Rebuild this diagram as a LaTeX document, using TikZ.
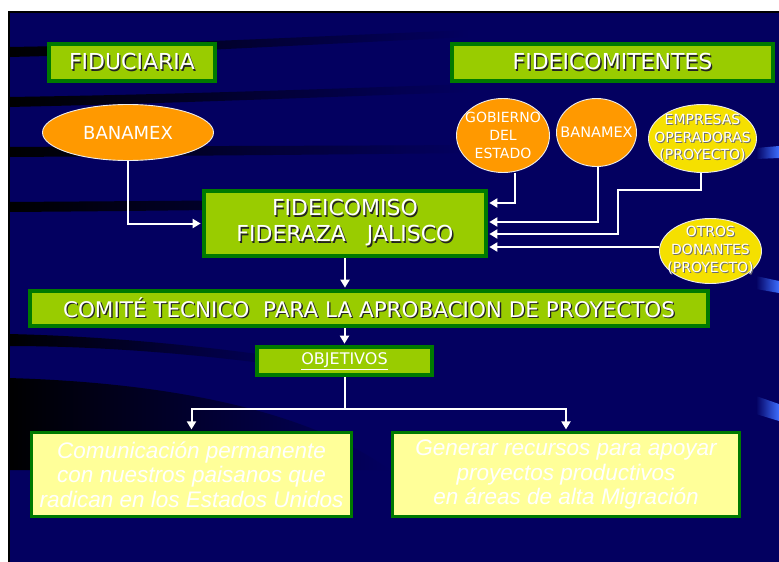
\documentclass[tikz,border=0pt]{standalone}
\usepackage{fontspec}
\usetikzlibrary{shapes.geometric,arrows.meta,calc}
\setmainfont{DejaVu Sans}
\newfontfamily\arialit{Liberation Sans}
\definecolor{navybg}{RGB}{3,0,96}
\definecolor{limefill}{RGB}{153,204,0}
\definecolor{dgreen}{RGB}{0,122,0}
\definecolor{orangefill}{RGB}{255,153,0}
\definecolor{yellowfill}{RGB}{245,224,0}
\definecolor{paleyellow}{RGB}{255,255,153}
\definecolor{shadowc}{RGB}{35,35,35}
\definecolor{shadowg}{RGB}{110,110,110}
\definecolor{ribbon}{RGB}{60,110,255}
\newcommand\shd[1]{\makebox[0pt][l]{\hspace{1.3pt}\raisebox{-1.3pt}{\textcolor{shadowc}{#1}}}#1}
\newcommand\shdg[1]{\makebox[0pt][l]{\hspace{1pt}\raisebox{-1pt}{\textcolor{shadowg}{#1}}}#1}
\pgfdeclarelayer{bg}
\pgfdeclarelayer{conns}
\pgfsetlayers{bg,conns,main}
\begin{document}
\begin{tikzpicture}[x=1pt,y=-1pt,
  greenbox/.style={rectangle,draw=dgreen,fill=limefill,line width=3.5pt,inner sep=0pt,text=white},
  goalbox/.style={rectangle,draw=dgreen,fill=paleyellow,line width=3pt,inner sep=0pt,text=white,align=center,font=\arialit\itshape\fontsize{22.5}{24.5}\selectfont},
  oval/.style={ellipse,draw=white!85!gray,line width=0.9pt,inner sep=0pt},
  orangeoval/.style={oval,fill=orangefill},
  yellowoval/.style={oval,fill=yellowfill},
  ovaltext/.style={text=white,align=center,font=\fontsize{14}{18}\selectfont},
  conn/.style={draw=white,line width=2pt,-{Triangle[length=8pt,width=9pt]},shorten >=1.6pt},
  plainline/.style={draw=white,line width=2pt},
  titlefont/.style={font=\fontsize{22}{26}\selectfont}
]
\useasboundingbox (0,0) rectangle (779,562);
\begin{pgfonlayer}{bg}
\fill[white] (0,0) rectangle (779,562);
\fill[navybg] (8,11) rectangle (779,562);
% dark background bands
\shade[left color=black,right color=navybg] (8,47) .. controls (150,45) and (300,37) .. (470,30) -- (470,37) .. controls (300,45) and (150,54) .. (8,57) -- cycle;
\shade[left color=black,right color=navybg] (8,97) .. controls (150,95) and (300,90) .. (470,84) -- (470,92) .. controls (300,98) and (150,104) .. (8,107) -- cycle;
\shade[left color=black,right color=navybg] (8,147) .. controls (150,146) and (300,146) .. (470,145) -- (470,153) .. controls (300,155) and (150,156) .. (8,157) -- cycle;
\shade[left color=black,right color=navybg] (8,202) .. controls (150,201) and (300,200) .. (470,198) -- (470,206) .. controls (300,209) and (150,211) .. (8,212) -- cycle;
\shade[left color=black,right color=navybg] (8,334) .. controls (100,336) and (200,345) .. (300,360) -- (300,368) .. controls (200,354) and (100,346) .. (8,346) -- cycle;
\shade[left color=black,right color=navybg] (8,378) .. controls (150,382) and (300,405) .. (390,470) -- (8,470) -- cycle;
% blue ribbons at right edge
\shade[left color=navybg,right color=ribbon] (756,148) -- (779,146) -- (779,158) -- (756,159) -- cycle;
\shade[left color=navybg,right color=ribbon] (756,276) -- (779,281) -- (779,293) -- (756,289) -- cycle;
\shade[left color=navybg,right color=ribbon] (756,396) -- (779,404) -- (779,421) -- (756,414) -- cycle;
\draw[black,line width=1.5pt] (8.75,562) -- (8.75,11.75) -- (779,11.75);
\end{pgfonlayer}

% title boxes
\node[greenbox,minimum width=166pt,minimum height=37pt,titlefont] (fidu) at (132,62.5) {\shd{FIDUCIARIA}};
\node[greenbox,minimum width=321pt,minimum height=37pt,titlefont] (fidei) at (612.5,62.5) {\shd{FIDEICOMITENTES}};

% ovals
\node[orangeoval,minimum width=171pt,minimum height=56pt,
  label={[ovaltext,font=\fontsize{18}{20}\selectfont]center:BANAMEX}] (banL) at (128,132.5) {};
\node[orangeoval,minimum width=93pt,minimum height=74pt,
  label={[ovaltext]center:GOBIERNO\\DEL\\ESTADO}] (gob) at (503,135.5) {};
\node[orangeoval,minimum width=80pt,minimum height=68pt,
  label={[ovaltext,font=\fontsize{14.5}{18}\selectfont]center:BANAMEX}] (ban2) at (596.5,132.5) {};
\node[yellowoval,minimum width=108pt,minimum height=68pt,
  label={[ovaltext,font=\fontsize{14}{17.5}\selectfont]center:\shdg{EMPRESAS}\\\shdg{OPERADORAS}\\\shdg{(PROYECTO)}}] (emp) at (702.5,138.5) {};
\node[yellowoval,minimum width=102pt,minimum height=65pt,
  label={[ovaltext]center:\shdg{OTROS}\\\shdg{DONANTES}\\\shdg{(PROYECTO)}}] (otros) at (710.5,251) {};

% central boxes
\node[greenbox,minimum width=282pt,minimum height=65pt,titlefont,align=center] (fidc) at (345,223.5) {\shd{FIDEICOMISO}\\\shd{FIDERAZA\ \ \ JALISCO}};
\node[greenbox,minimum width=678pt,minimum height=35pt,font=\fontsize{21.5}{24}\selectfont] (comite) at (369,308.5) {\shd{COMITÉ TECNICO\ \ PARA LA APROBACION DE PROYECTOS}};
\node[greenbox,minimum width=175pt,minimum height=28pt,font=\fontsize{16}{18}\selectfont] (obj) at (344.5,361) {\underline{OBJETIVOS}};

% goal boxes
\node[goalbox,minimum width=320pt,minimum height=84pt] (goalL) at (191.5,474.5) {Comunicación permanente\\con nuestros paisanos que\\radican en los Estados Unidos};
\node[goalbox,minimum width=347pt,minimum height=84pt] (goalR) at (566,474.5) {Generar recursos para apoyar\\proyectos productivos\\en áreas de alta Migración};

% connectors
\coordinate (empbend) at (618,190);
\coordinate (split) at ($(obj.south)+(0,32)$);
\begin{pgfonlayer}{conns}
\draw[conn] (banL.south) |- (fidc.west);
\draw[conn] ($(gob.south)+(12,0)$) |- ($(fidc.east)+(0,-20.5)$);
\draw[conn] ($(ban2.south)+(1.5,0)$) |- ($(fidc.east)+(0,-1.5)$);
\draw[conn] ($(emp.south)+(-2,0)$) |- (empbend) |- ($(fidc.east)+(0,10.5)$);
\draw[conn] ($(otros.west)+(0,-4)$) -- ($(fidc.east)+(0,23.5)$);
\draw[conn] (fidc.south) -- (fidc.south |- comite.north);
\draw[conn] (comite.south -| obj.north) -- (obj.north);
\draw[plainline] (obj.south) -- (split);
\draw[conn] (split) -| (goalL.north);
\draw[conn] (split) -| (goalR.north);
\end{pgfonlayer}
\end{tikzpicture}
\end{document}
